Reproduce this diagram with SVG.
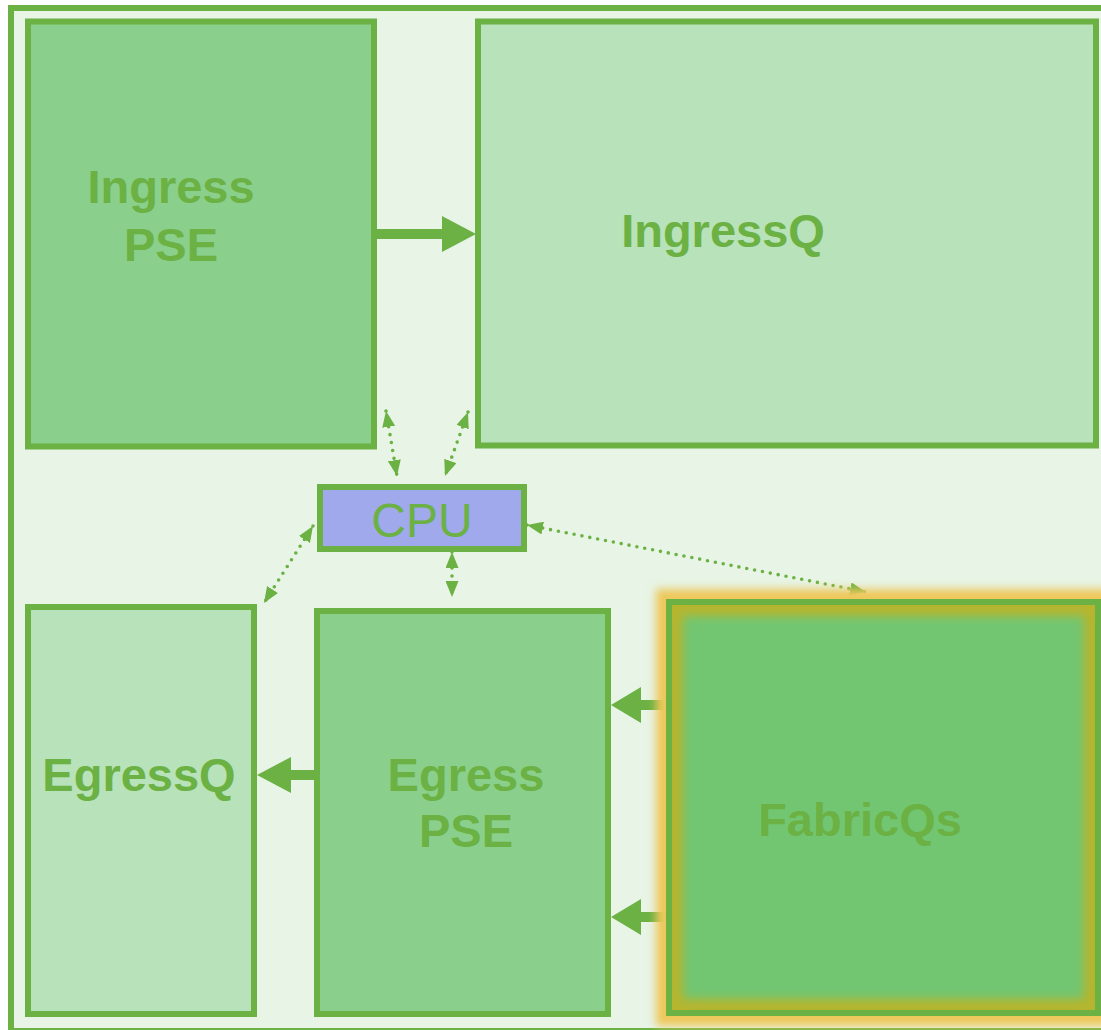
<svg xmlns="http://www.w3.org/2000/svg" width="1101" height="1030" viewBox="0 0 1101 1030">
  <defs>
    <style>
      .frame { fill: #E7F4E6; stroke: #6BB143; stroke-width: 6; }
      .box { stroke: #6BB143; stroke-width: 6; }
      .dark { fill: #8ACF8B; }
      .light { fill: #B8E2B9; }
      .label { font-family: "Liberation Sans", Arial, sans-serif; font-weight: bold; font-size: 47px; fill: #6BB143; text-anchor: middle; }
      .cpu-label { font-family: "Liberation Sans", Arial, sans-serif; font-size: 48px; fill: #6BB143; text-anchor: middle; }
      .flow { stroke: #6BB143; stroke-width: 10; fill: none; }
      .head { fill: #6BB143; }
      .ctrl { stroke: #6BB143; stroke-width: 3.6; stroke-linecap: round; stroke-dasharray: 0 8; fill: none;
              marker-start: url(#tip); marker-end: url(#tip); }
    </style>
    <marker id="tip" viewBox="0 0 16 13" refX="16" refY="6.5" markerWidth="16" markerHeight="13"
            markerUnits="userSpaceOnUse" orient="auto-start-reverse">
      <path d="M0,0 L16,6.5 L0,13 Z" fill="#6BB143"/>
    </marker>
    <filter id="outerGlow" x="-10%" y="-10%" width="120%" height="120%">
      <feGaussianBlur stdDeviation="4"/>
    </filter>
    <filter id="innerGlow" x="-10%" y="-10%" width="120%" height="120%">
      <feGaussianBlur stdDeviation="5"/>
    </filter>
    <clipPath id="fabricInside">
      <rect x="672" y="605" width="423" height="405"/>
    </clipPath>
  </defs>

  <!-- device frame -->
  <rect class="frame" x="11" y="8" width="1100" height="1023"/>

  <!-- data-path and control connectors -->
  <g id="connectors">
    <!-- Ingress PSE -> IngressQ -->
    <line class="flow" x1="376" y1="234" x2="444" y2="234"/>
    <polygon class="head" points="442,216 476,234 442,252"/>
    <!-- Egress PSE -> EgressQ -->
    <line class="flow" x1="316" y1="775" x2="289" y2="775"/>
    <polygon class="head" points="291,757 257,775 291,793"/>
    <!-- FabricQs -> Egress PSE -->
    <line class="flow" x1="670" y1="705" x2="639" y2="705"/>
    <polygon class="head" points="641,687 611,705 641,723"/>
    <line class="flow" x1="670" y1="917" x2="639" y2="917"/>
    <polygon class="head" points="641,899 611,917 641,935"/>
    <!-- CPU control links -->
    <line class="ctrl" x1="386" y1="411" x2="397" y2="476"/>
    <line class="ctrl" x1="468" y1="412" x2="445" y2="476"/>
    <line class="ctrl" x1="313" y1="526" x2="264" y2="603"/>
    <line class="ctrl" x1="452" y1="552" x2="452" y2="597"/>
    <line class="ctrl" x1="527" y1="525" x2="866" y2="592"/>
  </g>

  <g id="ingress-pse">
    <rect class="box dark" x="28" y="21.5" width="346" height="425"/>
    <text class="label" x="171" y="203">Ingress</text>
    <text class="label" x="171" y="261">PSE</text>
  </g>

  <g id="ingressq">
    <rect class="box light" x="478" y="21.5" width="618" height="424"/>
    <text class="label" x="723" y="247">IngressQ</text>
  </g>

  <g id="cpu">
    <rect class="box" x="320" y="487" width="204" height="62" fill="#A0A9EC"/>
    <text class="cpu-label" x="422" y="537">CPU</text>
  </g>

  <g id="egressq">
    <rect class="box light" x="28" y="607" width="226" height="407"/>
    <text class="label" x="139" y="791">EgressQ</text>
  </g>

  <g id="egress-pse">
    <rect class="box dark" x="317" y="611" width="291" height="403"/>
    <text class="label" x="466" y="791">Egress</text>
    <text class="label" x="466" y="847">PSE</text>
  </g>

  <g id="fabricqs">
    <!-- soft yellow halo around the box -->
    <rect x="669" y="602" width="429" height="411" fill="none" stroke="#EDC75A" stroke-width="26"
          filter="url(#outerGlow)"/>
    <rect x="669" y="602" width="429" height="411" fill="#72C672"/>
    <!-- olive inner glow -->
    <g clip-path="url(#fabricInside)">
      <rect x="669" y="602" width="429" height="411" fill="none" stroke="#B5B52E" stroke-width="28"
            filter="url(#innerGlow)"/>
    </g>
    <rect class="box" x="669" y="602" width="429" height="411" fill="none"/>
    <text class="label" x="860" y="836">FabricQs</text>
  </g>
</svg>
